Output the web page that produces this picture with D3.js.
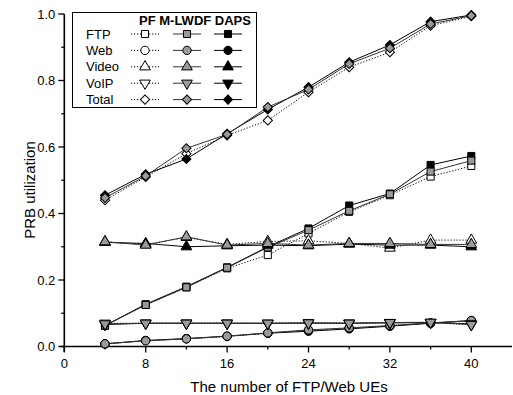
<!DOCTYPE html>
<html lang="en">
<head>
<meta charset="utf-8">
<title>PRB utilization</title>
<script src="https://d3js.org/d3.v7.min.js"></script>
<style>
  body { margin: 0; background: #fff; }
  text { font-family: "Liberation Sans", Arial, sans-serif; fill: #000; }
</style>
</head>
<body>
<script>
// number of FTP/Web UEs
const xs = [4, 8, 12, 16, 20, 24, 28, 32, 36, 40];
const services = ["FTP", "Web", "Video", "VoIP", "Total"];
const schemes = ["PF", "M-LWDF", "DAPS"];
const xTicks = [0, 8, 16, 24, 32, 40];
const yTicks = [0, 0.2, 0.4, 0.6, 0.8, 1.0];

// PRB utilization per service, per scheme
const ftpPF     = [0.063, 0.125, 0.178, 0.235, 0.275, 0.340, 0.405, 0.455, 0.511, 0.543];
const ftpMLWDF  = [0.063, 0.125, 0.178, 0.237, 0.298, 0.350, 0.408, 0.458, 0.526, 0.559];
const ftpDAPS   = [0.063, 0.127, 0.180, 0.238, 0.300, 0.355, 0.424, 0.460, 0.546, 0.573];

const webPF     = [0.008, 0.018, 0.023, 0.030, 0.040, 0.048, 0.055, 0.062, 0.070, 0.077];
const webMLWDF  = [0.008, 0.017, 0.023, 0.031, 0.041, 0.050, 0.056, 0.063, 0.071, 0.078];
const webDAPS   = [0.008, 0.018, 0.024, 0.031, 0.040, 0.046, 0.053, 0.061, 0.070, 0.078];

const videoPF    = [0.315, 0.307, 0.328, 0.307, 0.316, 0.318, 0.310, 0.296, 0.320, 0.320];
const videoMLWDF = [0.315, 0.305, 0.330, 0.305, 0.310, 0.305, 0.310, 0.310, 0.307, 0.307];
const videoDAPS  = [0.313, 0.310, 0.300, 0.303, 0.305, 0.303, 0.308, 0.305, 0.305, 0.300];

const voipPF    = [0.070, 0.070, 0.070, 0.070, 0.069, 0.072, 0.070, 0.072, 0.072, 0.065];
const voipMLWDF = [0.068, 0.070, 0.070, 0.070, 0.070, 0.071, 0.070, 0.072, 0.073, 0.066];
const voipDAPS  = [0.066, 0.070, 0.070, 0.070, 0.070, 0.070, 0.070, 0.071, 0.072, 0.068];

const totalPF    = [0.440, 0.510, 0.580, 0.635, 0.680, 0.765, 0.840, 0.885, 0.965, 0.993];
const totalMLWDF = [0.447, 0.513, 0.596, 0.638, 0.720, 0.773, 0.850, 0.897, 0.970, 0.995];
const totalDAPS  = [0.455, 0.518, 0.564, 0.640, 0.713, 0.780, 0.855, 0.907, 0.977, 0.997];

const values = {
  FTP:   [ftpPF, ftpMLWDF, ftpDAPS],
  Web:   [webPF, webMLWDF, webDAPS],
  Video: [videoPF, videoMLWDF, videoDAPS],
  VoIP:  [voipPF, voipMLWDF, voipDAPS],
  Total: [totalPF, totalMLWDF, totalDAPS]
};

const w = 513, h = 395;
const x = d3.scaleLinear([0, 44], [64.3, 512]);
const y = d3.scaleLinear([0, 1], [346.5, 14]);

const svg = d3.select("body").append("svg")
  .attr("width", w).attr("height", h);

// marker shapes
const shapes = {
  FTP:   {type: d3.symbolSquare,   size: 50, rot: 0},
  Web:   {type: d3.symbolCircle,   size: 55, rot: 0},
  Video: {type: d3.symbolTriangle, size: 50, rot: 0},
  VoIP:  {type: d3.symbolTriangle, size: 50, rot: 180},
  Total: {type: d3.symbolSquare,   size: 42, rot: 45}
};
const fills = {"PF": "#fff", "M-LWDF": "#9a9a9a", "DAPS": "#000"};
const dash = {"PF": "1.2,1.8", "M-LWDF": null, "DAPS": null};
const lineCol = {"PF": "#000", "M-LWDF": "#333", "DAPS": "#000"};

function marker(g, svc, scheme, px, py) {
  const s = shapes[svc];
  g.append("path")
    .attr("d", d3.symbol(s.type, s.size)())
    .attr("transform", `translate(${px},${py}) rotate(${s.rot})`)
    .attr("fill", fills[scheme])
    .attr("stroke", "#000")
    .attr("stroke-width", 1);
}

// axes
const xAxis = svg.append("g").attr("transform", `translate(0,${y(0)})`);
xAxis.append("line").attr("x1", 60).attr("x2", 512).attr("stroke", "#000").attr("stroke-width", 1.6);
xAxis.selectAll(".minor").data(d3.range(4, 44, 8)).join("line")
  .attr("x1", d => x(d)).attr("x2", d => x(d)).attr("y1", 0).attr("y2", 3)
  .attr("stroke", "#000").attr("stroke-width", 1.3);
xAxis.selectAll(".major").data(xTicks).join("line")
  .attr("x1", d => x(d)).attr("x2", d => x(d)).attr("y1", 0).attr("y2", 6)
  .attr("stroke", "#000").attr("stroke-width", 1.3);
xAxis.selectAll("text").data(xTicks).join("text")
  .attr("x", d => x(d)).attr("y", 21)
  .attr("text-anchor", "middle").attr("font-size", 13)
  .text(d => d);

const yAxis = svg.append("g").attr("transform", `translate(${x(0)},0)`);
yAxis.append("line").attr("y1", y(1)).attr("y2", 352).attr("stroke", "#000").attr("stroke-width", 1.6);
yAxis.selectAll(".minor").data(d3.range(0.1, 1, 0.2)).join("line")
  .attr("x1", -3).attr("x2", 0).attr("y1", d => y(d)).attr("y2", d => y(d))
  .attr("stroke", "#000").attr("stroke-width", 1.3);
yAxis.selectAll(".major").data(yTicks).join("line")
  .attr("x1", -6).attr("x2", 0).attr("y1", d => y(d)).attr("y2", d => y(d))
  .attr("stroke", "#000").attr("stroke-width", 1.3);
yAxis.selectAll("text").data(yTicks).join("text")
  .attr("x", -9).attr("y", d => y(d) + 4.5)
  .attr("text-anchor", "end").attr("font-size", 13)
  .text(d => d.toFixed(1));

svg.append("text")
  .attr("transform", `translate(35,190) rotate(-90)`)
  .attr("text-anchor", "middle").attr("font-size", 15)
  .text("PRB utilization");
svg.append("text")
  .attr("x", 289).attr("y", 392)
  .attr("text-anchor", "middle").attr("font-size", 15)
  .text("The number of FTP/Web UEs");

// series
const line = d3.line().x(d => x(d[0])).y(d => y(d[1]));
const plot = svg.append("g");
const order = [0, 2, 1];
services.forEach(svc => {
  order.forEach(i => {
    const scheme = schemes[i];
    const pts = xs.map((v, k) => [v, values[svc][i][k]]);
    plot.append("path")
      .attr("d", line(pts))
      .attr("fill", "none")
      .attr("stroke", lineCol[scheme])
      .attr("stroke-width", 1)
      .attr("stroke-dasharray", dash[scheme]);
  });
});
services.forEach(svc => {
  order.forEach(i => {
    const scheme = schemes[i];
    xs.forEach((v, k) => marker(plot, svc, scheme, x(v), y(values[svc][i][k])));
  });
});

// legend
const leg = svg.append("g");
leg.append("rect").attr("x", 72.5).attr("y", 12.5).attr("width", 184).attr("height", 95)
  .attr("fill", "#fff").attr("stroke", "#000").attr("stroke-width", 1);
leg.append("text").attr("x", 139).attr("y", 25).attr("font-size", 13)
  .attr("font-weight", "bold").text(schemes.join(" "));
const colX = [145, 187, 228];
services.forEach((svc, r) => {
  const ry = 34 + r * 16.4;
  leg.append("text").attr("x", 86).attr("y", ry + 4.5).attr("font-size", 13).text(svc);
  schemes.forEach((scheme, i) => {
    leg.append("line")
      .attr("x1", colX[i] - 14).attr("x2", colX[i] + 14)
      .attr("y1", ry).attr("y2", ry)
      .attr("stroke", lineCol[scheme]).attr("stroke-width", 1)
      .attr("stroke-dasharray", dash[scheme]);
    marker(leg, svc, scheme, colX[i], ry);
  });
});
</script>
</body>
</html>
